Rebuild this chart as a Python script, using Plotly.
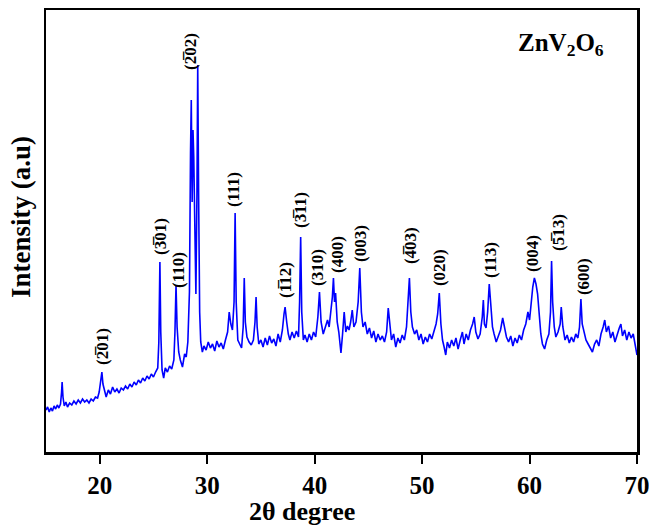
import plotly.graph_objects as go

two_theta = [
    15.0, 15.15, 15.3, 15.45, 15.6, 15.75, 15.9, 16.05, 16.2, 16.35, 16.45, 16.5, 16.58, 16.7, 16.85,
    17.0, 17.2, 17.4, 17.6, 17.8, 18.0, 18.2, 18.4, 18.6, 18.8, 19.0, 19.2, 19.4, 19.6, 19.8, 19.95,
    20.1, 20.2, 20.3, 20.45, 20.6, 20.8, 21.0, 21.2, 21.4, 21.6, 21.8, 22.0, 22.2, 22.4, 22.6, 22.8,
    23.0, 23.2, 23.4, 23.6, 23.8, 24.0, 24.2, 24.4, 24.6, 24.8, 25.0, 25.2, 25.4, 25.5, 25.6, 25.68,
    25.8, 25.95, 26.1, 26.3, 26.5, 26.7, 26.9, 27.0, 27.1, 27.2, 27.35, 27.5, 27.7, 27.9, 28.05, 28.2,
    28.35, 28.45, 28.52, 28.6, 28.68, 28.75, 28.85, 28.95, 29.05, 29.12, 29.2, 29.3, 29.4, 29.55,
    29.7, 29.9, 30.1, 30.3, 30.5, 30.7, 30.9, 31.1, 31.3, 31.5, 31.7, 31.9, 32.05, 32.2, 32.35, 32.5,
    32.6, 32.7, 32.85, 33.0, 33.2, 33.35, 33.45, 33.55, 33.7, 33.9, 34.1, 34.3, 34.45, 34.55, 34.65,
    34.8, 35.0, 35.2, 35.4, 35.6, 35.8, 36.0, 36.2, 36.4, 36.6, 36.8, 37.0, 37.15, 37.25, 37.4, 37.55,
    37.7, 37.9, 38.1, 38.3, 38.5, 38.6, 38.7, 38.8, 38.95, 39.1, 39.3, 39.5, 39.7, 39.9, 40.1, 40.3,
    40.45, 40.6, 40.8, 41.0, 41.2, 41.35, 41.5, 41.65, 41.75, 41.85, 41.95, 42.1, 42.25, 42.45, 42.6,
    42.75, 42.9, 43.05, 43.2, 43.35, 43.5, 43.65, 43.85, 44.05, 44.2, 44.35, 44.5, 44.7, 44.9, 45.1,
    45.3, 45.5, 45.7, 45.9, 46.1, 46.3, 46.5, 46.7, 46.85, 47.0, 47.15, 47.35, 47.55, 47.75, 47.95,
    48.15, 48.35, 48.55, 48.7, 48.82, 48.95, 49.1, 49.3, 49.5, 49.7, 49.9, 50.1, 50.3, 50.5, 50.7,
    50.9, 51.1, 51.3, 51.45, 51.6, 51.75, 51.9, 52.05, 52.2, 52.35, 52.55, 52.75, 52.95, 53.15, 53.35,
    53.55, 53.75, 53.9, 54.1, 54.3, 54.5, 54.7, 54.85, 55.0, 55.2, 55.4, 55.6, 55.7, 55.8, 55.95,
    56.1, 56.25, 56.4, 56.55, 56.7, 56.9, 57.1, 57.3, 57.5, 57.65, 57.85, 58.05, 58.25, 58.45, 58.65,
    58.85, 59.05, 59.25, 59.45, 59.65, 59.85, 60.0, 60.15, 60.3, 60.45, 60.6, 60.75, 60.9, 61.05,
    61.2, 61.4, 61.6, 61.8, 61.95, 62.05, 62.15, 62.3, 62.45, 62.65, 62.85, 62.95, 63.1, 63.3, 63.5,
    63.7, 63.9, 64.1, 64.3, 64.5, 64.65, 64.78, 64.9, 65.05, 65.25, 65.45, 65.65, 65.85, 66.05, 66.25,
    66.45, 66.65, 66.85, 67.0, 67.15, 67.35, 67.55, 67.75, 67.95, 68.15, 68.35, 68.5, 68.65, 68.85,
    69.05, 69.25, 69.45, 69.65, 69.85, 70.0,
]

intensity = [
    42, 45, 40, 44, 41, 46, 43, 47, 44, 48, 60, 70, 55, 46, 50,
    45, 49, 47, 51, 48, 52, 49, 53, 50, 52, 49, 53, 51, 55, 54, 60,
    70, 80, 68, 60, 55, 62, 58, 65, 60, 63, 59, 64, 62, 66, 63, 68,
    65, 70, 67, 72, 69, 74, 71, 76, 73, 78, 75, 80, 84, 110, 190, 120,
    82, 74, 84, 80, 86, 83, 92, 120, 167, 125, 100, 92, 85, 98, 95, 110,
    160, 300, 352, 250, 322, 295, 240, 158, 260, 387, 260, 140, 110, 100,
    106, 102, 110, 104, 108, 101, 111, 105, 109, 103, 112, 120, 140, 128, 122, 150,
    239, 150, 112, 108, 104, 125, 174, 130, 115, 110, 107, 112, 130, 155, 125,
    108, 112, 105, 114, 107, 116, 109, 113, 106, 118, 110, 122, 138, 145, 130, 118,
    112, 120, 114, 121, 115, 150, 215, 140, 112, 117, 110, 118, 112, 120, 115, 135,
    160, 130, 118, 124, 132, 125, 138, 155, 174, 150, 159, 130, 120, 99, 118,
    140, 120, 126, 122, 130, 142, 125, 130, 150, 184, 140, 125, 130, 118, 124,
    114, 121, 110, 118, 112, 116, 110, 120, 144, 125, 112, 118, 105, 114, 109,
    117, 112, 125, 150, 174, 140, 125, 118, 122, 112, 118, 108, 115, 110, 118,
    113, 122, 128, 138, 159, 128, 112, 105, 97, 110, 104, 112, 106, 114, 103,
    112, 120, 108, 118, 112, 122, 128, 135, 120, 113, 118, 135, 152, 128, 124,
    140, 168, 145, 125, 118, 110, 116, 122, 134, 125, 115, 110, 116, 106, 114,
    109, 117, 112, 122, 128, 140, 132, 150, 165, 174, 168, 158, 135, 118,
    108, 103, 112, 118, 140, 191, 150, 125, 115, 120, 128, 145, 125, 112, 117,
    109, 115, 110, 118, 114, 125, 153, 128, 120, 112, 108, 104, 100, 108, 112,
    106, 118, 125, 132, 120, 126, 114, 120, 110, 118, 124, 128, 116, 122,
    112, 120, 114, 118, 108, 97,
]

peak_labels = [
    "(2\u030501)", "(3\u030501)", "(110)", "(2\u030502)", "(111)", "(3\u030511)", "(1\u030512)",
    "(310)", "(400)", "(003)", "(4\u030503)", "(020)", "(113)", "(004)", "(5\u030513)", "(600)",
]
label_x = [20.21, 25.61, 27.28, 28.40, 32.40, 38.64, 37.24, 40.22, 42.08, 44.22, 48.88, 51.58,
           56.32, 60.23, 62.65, 64.98]
label_y = [106, 215, 182, 401, 263, 242, 172, 184, 198, 209, 206, 184, 192, 198, 219, 175]

x_ticks = [20, 30, 40, 50, 60, 70]

FONT = "Liberation Serif"
W, H = 649, 526
ML, MR, MT, MB = 46, 12, 10, 74
PW, PH = W - ML - MR, H - MT - MB


def px_to_paper(px, py):
    return (px - ML) / PW, 1 - (py - MT) / PH


fig = go.Figure()
fig.add_trace(go.Scatter(
    x=two_theta, y=intensity, mode="lines",
    line=dict(color="#0000ff", width=1.6),
    showlegend=False, hoverinfo="skip",
))

for t, lx, ly in zip(peak_labels, label_x, label_y):
    fig.add_annotation(
        x=lx, y=ly, xref="x", yref="y", text=t, showarrow=False, textangle=-90,
        xanchor="center", yanchor="middle",
        font=dict(family=FONT, size=17, color="black", weight="bold"),
    )

zx, zy = px_to_paper(561, 45)
fig.add_annotation(
    x=zx, y=zy, xref="paper", yref="paper", text="ZnV<sub>2</sub>O<sub>6</sub>",
    showarrow=False, xanchor="center", yanchor="middle",
    font=dict(family=FONT, size=25, color="black", weight="bold"),
)

tx, ty = px_to_paper(302, 511)
fig.add_annotation(
    x=tx, y=ty, xref="paper", yref="paper", text="2θ degree", showarrow=False,
    xanchor="center", yanchor="middle",
    font=dict(family=FONT, size=26, color="black", weight="bold"),
)
yx, yy = px_to_paper(21, 217)
fig.add_annotation(
    x=yx, y=yy, xref="paper", yref="paper", text="Intensity (a.u)", showarrow=False,
    textangle=-90, xanchor="center", yanchor="middle",
    font=dict(family=FONT, size=27, color="black", weight="bold"),
)

fig.update_layout(
    width=W, height=H,
    margin=dict(l=ML, r=MR, t=MT, b=MB, autoexpand=False),
    paper_bgcolor="white", plot_bgcolor="white",
    font=dict(family=FONT, color="black"),
)

fig.update_xaxes(
    range=[15, 70], tickvals=x_ticks, ticktext=[str(v) for v in x_ticks],
    showline=True, mirror=True, linecolor="black", linewidth=2.5,
    ticks="outside", ticklen=9, tickwidth=2, tickcolor="black",
    showgrid=False, zeroline=False, automargin=False, ticklabeloverflow="allow",
    tickfont=dict(family=FONT, size=25, color="black", weight="bold"),
)
fig.update_yaxes(
    range=[0, 442], showticklabels=False, ticks="",
    showline=True, mirror=True, linecolor="black", linewidth=2.5,
    showgrid=False, zeroline=False, automargin=False,
)

fig.write_html(
    "out.html",
    config={"displayModeBar": False, "staticPlot": True},
    post_script="document.body.style.margin='0px';document.body.style.overflow='hidden';",
)
